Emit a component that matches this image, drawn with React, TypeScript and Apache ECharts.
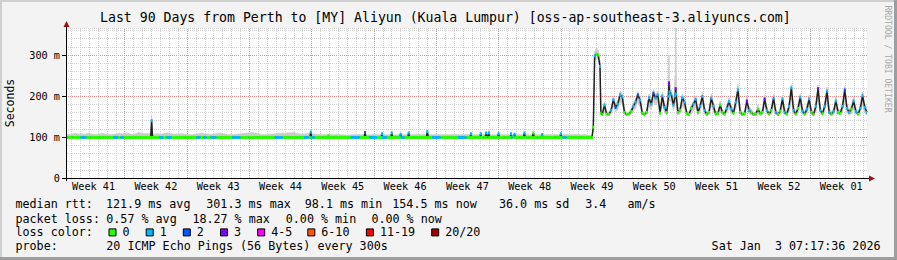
import React, { useEffect, useRef } from 'react';
import * as echarts from 'echarts';

const TITLE = 'Last 90 Days from Perth to [MY] Aliyun (Kuala Lumpur) [oss-ap-southeast-3.aliyuncs.com]';
const MONO = '"DejaVu Sans Mono", "Liberation Mono", monospace';

// x is measured in days from the left edge of the 90-day window
const windowDays = 90;
const weekLabels = ['Week 41', 'Week 42', 'Week 43', 'Week 44', 'Week 45', 'Week 46', 'Week 47', 'Week 48', 'Week 49', 'Week 50', 'Week 51', 'Week 52', 'Week 01'];
const weekMidpoints = [3.1, 10.1, 17.1, 24.1, 31.1, 38.1, 45.1, 52.1, 59.1, 66.1, 73.1, 80.1, 87.1];
const weekBoundaries = [6.6, 13.6, 20.6, 27.6, 34.6, 41.6, 48.6, 55.6, 62.6, 69.6, 76.6, 83.6];
const firstMidnight = 0.6;

const yTickValues = [0, 100, 200, 300];
const yTop = 366;

// ---- calm period (weeks 41-49): median around 99 ms ----
const calmTimes = [
  0, 0.5, 1.0, 1.5, 1.8, 2.1, 2.5, 3.0, 3.5, 4.0,
  4.5, 5.0, 5.7, 6.0, 6.25, 6.8, 7.5, 8.2, 8.9, 9.52,
  9.62, 9.72, 10.3, 10.7, 11.1, 11.5, 12.2, 13.0, 13.8, 14.4,
  14.9, 15.3, 15.6, 16.0, 16.5, 17.3, 18.2, 19.2, 20.0, 21.0,
  22.0, 23.0, 23.9, 24.8, 25.6, 26.4, 27.1, 27.4, 27.5, 27.6,
  28.3, 29.4, 29.5, 29.6, 30.5, 31.5, 32.5, 33.5, 33.6, 33.7,
  34.5, 35.4, 35.5, 35.6, 36.5, 36.6, 36.7, 37.5, 37.6, 37.7,
  38.4, 38.5, 38.6, 39.5, 40.5, 40.6, 40.7, 41.6, 42.6, 43.5,
  44.6, 45.4, 45.5, 45.6, 46.5, 46.6, 46.7, 47.1, 47.2, 47.3,
  47.4, 47.5, 47.6, 48.5, 48.6, 48.7, 49.9, 50.0, 50.1, 50.3,
  50.4, 50.5, 51.4, 51.5, 51.6, 52.4, 52.5, 52.6, 53.4, 53.5,
  53.6, 54.5, 55.5, 55.6, 55.7, 55.9, 56.6, 57.5, 58.3,
];
const calmMedian = [
  99, 99, 99, 99, 99, 99, 99, 99, 99, 99,
  99, 99, 99, 99, 99, 99, 99, 99, 99, 99,
  140, 99, 99, 99, 99, 99, 99, 99, 99, 99,
  99, 99, 99, 99, 99, 99, 99, 99, 99, 99,
  99, 99, 99, 99, 99, 99, 99, 99, 112, 99,
  99, 99, 103, 99, 99, 99, 99, 99, 111, 99,
  99, 99, 108, 99, 99, 110, 99, 99, 107, 99,
  99, 110, 99, 99, 99, 113, 99, 99, 99, 99,
  99, 99, 108, 99, 99, 108, 99, 99, 110, 99,
  99, 110, 99, 99, 108, 99, 99, 108, 99, 99,
  107, 99, 99, 110, 99, 99, 110, 99, 99, 106,
  99, 99, 99, 108, 99, 99, 99, 99, 99,
];
const calmLoss = [
  0, 0, 0, 0, 1, 1, 0, 0, 0, 0,
  0, 0, 1, 0, 1, 0, 0, 0, 0, 0,
  1, 0, 0, 1, 0, 1, 0, 0, 0, 0,
  1, 0, 1, 0, 1, 0, 0, 1, 0, 0,
  0, 0, 1, 0, 0, 0, 1, 0, 1, 1,
  0, 0, 0, 0, 0, 0, 1, 0, 2, 0,
  1, 0, 1, 1, 0, 1, 0, 0, 1, 1,
  0, 1, 0, 0, 0, 1, 0, 1, 0, 0,
  1, 0, 1, 0, 0, 1, 0, 0, 1, 0,
  0, 1, 0, 0, 1, 0, 0, 1, 1, 0,
  1, 0, 0, 1, 0, 0, 0, 0, 0, 1,
  0, 0, 0, 1, 0, 1, 0, 0, 0,
];
const calmSmokeLow = [
  98, 98, 98, 98, 98, 98, 98, 98, 98, 98,
  98, 98, 98, 98, 98, 98, 98, 98, 98, 98,
  99, 98, 98, 98, 98, 98, 98, 98, 98, 98,
  98, 98, 98, 98, 98, 98, 98, 98, 98, 98,
  98, 98, 98, 98, 98, 98, 98, 98, 99, 98,
  98, 98, 99, 98, 98, 98, 98, 98, 99, 98,
  98, 98, 99, 98, 98, 99, 98, 98, 99, 98,
  98, 99, 98, 98, 98, 99, 98, 98, 98, 98,
  98, 98, 99, 98, 98, 99, 98, 98, 99, 98,
  98, 99, 98, 98, 99, 98, 98, 99, 98, 98,
  99, 98, 98, 99, 98, 98, 99, 98, 98, 99,
  98, 98, 98, 99, 98, 98, 98, 98, 98,
];
const calmSmokeHigh = [
  107, 106, 109, 107, 108, 106, 110, 107, 106, 109,
  107, 106, 108, 109, 108, 110, 106, 111, 108, 109,
  152, 107, 108, 107, 109, 110, 107, 108, 106, 107,
  108, 109, 108, 107, 107, 110, 106, 107, 109, 111,
  106, 107, 109, 110, 111, 107, 108, 109, 116, 108,
  107, 106, 107, 106, 107, 105, 106, 106, 112, 105,
  106, 106, 110, 106, 106, 111, 105, 106, 108, 106,
  106, 111, 106, 107, 106, 116, 106, 106, 106, 106,
  106, 106, 109, 106, 106, 109, 106, 106, 111, 106,
  106, 116, 106, 106, 109, 106, 106, 109, 106, 106,
  108, 106, 106, 111, 106, 106, 111, 106, 106, 107,
  106, 106, 106, 109, 106, 106, 106, 106, 106,
];

// ---- busy period (weeks 49-01): jump to ~300 ms, then daily peaks ----
const busyTimes = [
  59.0, 59.1, 59.25, 59.4, 59.6, 59.8, 60.0, 60.1, 60.25, 60.5,
  60.75, 61.0, 61.25, 61.5, 61.75, 62.0, 62.25, 62.5, 62.75, 63.0,
  63.25, 63.5, 63.75, 64.0, 64.25, 64.5, 64.75, 65.0, 65.25, 65.5,
  65.75, 66.0, 66.25, 66.5, 66.75, 67.0, 67.25, 67.5, 67.7, 67.75,
  67.8, 68.0, 68.25, 68.45, 68.5, 68.55, 68.75, 69.0, 69.25, 69.5,
  69.75, 70.0, 70.25, 70.5, 70.75, 71.0, 71.25, 71.5, 71.75, 72.0,
  72.25, 72.5, 72.75, 73.0, 73.25, 73.5, 73.75, 74.0, 74.25, 74.5,
  74.75, 75.0, 75.25, 75.5, 75.75, 76.0, 76.25, 76.5, 76.75, 77.0,
  77.25, 77.5, 77.75, 78.0, 78.25, 78.5, 78.75, 79.0, 79.25, 79.5,
  79.75, 80.0, 80.25, 80.5, 80.75, 81.0, 81.25, 81.5, 81.75, 82.0,
  82.25, 82.5, 82.75, 83.0, 83.25, 83.5, 83.75, 84.0, 84.25, 84.5,
  84.75, 85.0, 85.25, 85.5, 85.75, 86.0, 86.25, 86.5, 86.75, 87.0,
  87.25, 87.5, 87.75, 88.0, 88.25, 88.5, 88.75, 89.0, 89.25, 89.5,
  89.75, 90.0,
];
const busyMedian = [
  99, 99, 124, 298, 302, 300, 272, 158, 155, 178,
  156, 155, 165, 191, 172, 180, 203, 198, 160, 155,
  156, 162, 175, 185, 203, 190, 158, 155, 160, 196,
  180, 207, 195, 203, 158, 200, 172, 160, 200, 232,
  210, 205, 178, 200, 218, 205, 160, 165, 196, 185,
  157, 155, 170, 180, 192, 160, 175, 199, 165, 155,
  160, 195, 175, 156, 157, 178, 160, 156, 170, 187,
  168, 158, 185, 215, 160, 155, 157, 188, 165, 160,
  155, 156, 168, 157, 160, 193, 165, 156, 165, 195,
  160, 155, 163, 193, 160, 156, 175, 220, 165, 156,
  170, 197, 163, 156, 168, 193, 160, 155, 175, 218,
  165, 157, 175, 212, 160, 156, 162, 188, 160, 158,
  175, 215, 170, 160, 168, 188, 162, 156, 170, 201,
  172, 160,
];
const busyLoss = [
  0, 0, 0, 1, 0, 0, 1, 0, 0, 1,
  0, 0, 1, 1, 2, 1, 1, 1, 0, 0,
  0, 0, 1, 1, 2, 1, 0, 0, 0, 1,
  1, 2, 1, 1, 0, 1, 1, 0, 1, 3,
  1, 1, 1, 1, 3, 1, 0, 0, 1, 1,
  0, 0, 0, 1, 1, 0, 1, 1, 1, 0,
  0, 1, 1, 0, 0, 0, 0, 0, 1, 1,
  1, 0, 1, 1, 0, 0, 0, 3, 1, 0,
  0, 0, 0, 0, 0, 3, 1, 0, 0, 1,
  1, 0, 0, 1, 1, 0, 1, 1, 1, 0,
  0, 1, 1, 0, 1, 1, 0, 0, 1, 3,
  1, 0, 1, 1, 1, 0, 1, 1, 0, 0,
  1, 2, 1, 1, 0, 1, 1, 0, 1, 1,
  1, 1,
];
const busySmokeLow = [
  98, 98, 118, 285, 292, 290, 262, 154, 153, 162,
  153, 153, 156, 174, 162, 166, 184, 180, 154, 153,
  153, 155, 162, 170, 184, 174, 154, 153, 154, 175,
  166, 186, 178, 184, 154, 180, 160, 154, 182, 200,
  188, 186, 164, 184, 195, 186, 154, 156, 176, 168,
  153, 153, 157, 164, 174, 154, 161, 180, 156, 153,
  154, 176, 161, 153, 153, 162, 154, 153, 158, 170,
  158, 154, 168, 190, 154, 153, 153, 170, 156, 154,
  153, 153, 157, 153, 154, 174, 156, 153, 155, 176,
  154, 153, 155, 174, 154, 153, 161, 192, 156, 153,
  157, 178, 155, 153, 156, 174, 154, 153, 161, 190,
  156, 153, 161, 186, 154, 153, 155, 170, 154, 154,
  161, 188, 158, 154, 156, 170, 155, 153, 157, 180,
  158, 154,
];
const busySmokeHigh = [
  103, 104, 128, 308, 318, 312, 288, 168, 162, 186,
  162, 160, 172, 199, 181, 189, 212, 207, 170, 160,
  161, 170, 183, 193, 211, 199, 166, 160, 168, 205,
  190, 216, 205, 212, 168, 210, 182, 170, 240, 300,
  240, 215, 190, 250, 372, 250, 170, 175, 205, 195,
  165, 160, 178, 188, 200, 170, 184, 210, 175, 160,
  168, 205, 185, 162, 163, 188, 168, 162, 178, 196,
  178, 165, 195, 228, 170, 160, 163, 198, 175, 168,
  160, 162, 178, 163, 168, 202, 175, 162, 174, 205,
  170, 160, 172, 202, 170, 162, 185, 228, 175, 162,
  180, 206, 172, 162, 178, 202, 170, 160, 185, 226,
  175, 163, 185, 222, 170, 162, 170, 198, 170, 165,
  185, 224, 180, 168, 178, 198, 172, 162, 180, 210,
  182, 170,
];

// loss colour buckets
const lossColours = ['#26ff00', '#00b8ff', '#0059ff', '#7e00ff', '#ff00ff', '#ff5500', '#ff0000', '#a00000'];
const lossLegendLabels = ['0', '1', '2', '3', '4-5', '6-10', '11-19', '20/20'];

// statistics shown below the chart
const rttStats = ['121.9 ms avg', '301.3 ms max', '98.1 ms min', '154.5 ms now', '36.0 ms sd', '3.4', 'am/s'];
const lossStats = ['0.57 % avg', '18.27 % max', '0.00 % min', '0.00 % now'];
const probeText = '20 ICMP Echo Pings (56 Bytes) every 300s';
const stampText = 'Sat Jan  3 07:17:36 2026';

// layout
const W = 897;
const H = 260;
const GRID = { left: 66, top: 28, width: 801, height: 150 };
const rttX = [106, 206.3, 304.8, 392.3, 499, 585.2, 627.4];
const lossX = [106.3, 192.4, 285.8, 371.4];
const lossBoxX = [108.5, 145.7, 182.8, 220, 257.2, 307.3, 365.9, 431.2];
const ROW_Y = [204.3, 218.7, 232.4, 246.3];
const SMOKE = '#cbcbcb';
const MINOR = '#d2d2d2';
const MAJOR = '#ec8c8c';

function buildOption() {
  const times = [...calmTimes, ...busyTimes];
  const median = [...calmMedian, ...busyMedian];
  const loss = [...calmLoss, ...busyLoss];
  const smokeLow = [...calmSmokeLow, ...busySmokeLow];
  const smokeHigh = [...calmSmokeHigh, ...busySmokeHigh];
  const n = Math.min(times.length, median.length, loss.length, smokeLow.length, smokeHigh.length);
  const idx = times.slice(0, n).map((_, i) => i);

  const dayLines: number[] = [];
  for (let d = firstMidnight; d < windowDays; d += 1) {
    const r = Math.round(d * 10) / 10;
    if (!weekBoundaries.some((w) => Math.abs(w - r) < 1e-6)) dayLines.push(r);
  }

  const text = (t: string, x: number, y: number, extra: any = {}) => ({
    type: 'text',
    x,
    y,
    silent: true,
    z: 20,
    style: {
      text: t,
      fill: '#000',
      fontFamily: MONO,
      fontSize: 11.7,
      verticalAlign: 'middle',
      align: 'left',
      ...extra,
    },
  });

  const graphics: any[] = [
    // bevelled frame
    { type: 'rect', silent: true, z: 30, shape: { x: 0, y: 0, width: W, height: 2 }, style: { fill: '#cfcfcf' } },
    { type: 'rect', silent: true, z: 30, shape: { x: 0, y: 0, width: 2, height: H }, style: { fill: '#cfcfcf' } },
    { type: 'rect', silent: true, z: 30, shape: { x: 0, y: H - 3, width: W, height: 3 }, style: { fill: '#9e9e9e' } },
    { type: 'rect', silent: true, z: 30, shape: { x: W - 3, y: 0, width: 3, height: H }, style: { fill: '#9e9e9e' } },
    // axes with arrows
    { type: 'line', silent: true, z: 20, shape: { x1: GRID.left + 0.5, y1: 181, x2: GRID.left + 0.5, y2: 26 }, style: { stroke: '#000', lineWidth: 1 } },
    { type: 'line', silent: true, z: 20, shape: { x1: 62, y1: GRID.top + GRID.height + 0.5, x2: 869, y2: GRID.top + GRID.height + 0.5 }, style: { stroke: '#000', lineWidth: 1 } },
    { type: 'polygon', silent: true, z: 21, shape: { points: [[63.5, 27], [69.5, 27], [66.5, 21]] }, style: { fill: '#a01010' } },
    { type: 'polygon', silent: true, z: 21, shape: { points: [[869, 175.5], [869, 181.5], [875, 178.5]] }, style: { fill: '#a01010' } },
    // vertical axis title
    {
      type: 'text', silent: true, z: 20, x: 10, y: 103, rotation: Math.PI / 2,
      style: { text: 'Seconds', fill: '#000', fontFamily: MONO, fontSize: 11.5, align: 'center', verticalAlign: 'middle' },
    },
    // watermark
    {
      type: 'text', silent: true, z: 20, x: 887.5, y: 59, rotation: -Math.PI / 2,
      style: { text: 'RRDTOOL / TOBI OETIKER', fill: '#a8a8a8', fontFamily: MONO, fontSize: 8.1, align: 'center', verticalAlign: 'middle' },
    },
    // legend rows
    text('median rtt:', 15.5, ROW_Y[0]),
    ...rttStats.map((s, i) => text(s, rttX[i], ROW_Y[0])),
    text('packet loss:', 15.5, ROW_Y[1]),
    ...lossStats.map((s, i) => text(s, lossX[i], ROW_Y[1])),
    text('loss color:', 15.5, ROW_Y[2]),
    ...lossLegendLabels.map((s, i) => text(s, lossBoxX[i] + 14, ROW_Y[2])),
    ...lossLegendLabels.map((_, i) => ({
      type: 'rect', silent: true, z: 20,
      shape: { x: lossBoxX[i] + 0.5, y: ROW_Y[2] - 3.5, width: 7, height: 7 },
      style: { fill: lossColours[i], stroke: '#000', lineWidth: 1 },
    })),
    text('probe:', 15.5, ROW_Y[3]),
    text(probeText, 106.3, ROW_Y[3]),
    text(stampText, 880.5, ROW_Y[3], { align: 'right' }),
  ];

  return {
    animation: false,
    backgroundColor: '#f3f3f3',
    title: {
      text: TITLE,
      left: 100,
      top: 11,
      padding: 0,
      textStyle: { fontFamily: MONO, fontSize: 13.2, fontWeight: 'normal', color: '#000' },
    },
    grid: {
      left: GRID.left,
      top: GRID.top,
      width: GRID.width,
      height: GRID.height,
      show: true,
      backgroundColor: '#ffffff',
      borderWidth: 0,
    },
    xAxis: {
      type: 'value',
      min: 0,
      max: windowDays,
      axisLine: { show: false },
      axisTick: { show: false },
      splitLine: { show: false },
      axisLabel: {
        customValues: weekMidpoints,
        formatter: (v: number) => {
          const i = weekMidpoints.findIndex((m) => Math.abs(m - v) < 1e-6);
          return i >= 0 ? weekLabels[i] : '';
        },
        fontFamily: MONO,
        fontSize: 10.2,
        color: '#000',
        margin: 3,
      },
    },
    yAxis: [
      {
        type: 'value',
        min: 0,
        max: yTop,
        interval: 20,
        position: 'left',
        axisLine: { show: false },
        axisTick: { show: false },
        axisLabel: { show: false },
        splitLine: { show: true, showMinLine: false, lineStyle: { color: MINOR, type: [1, 1], width: 1 } },
      },
      {
        type: 'value',
        min: 0,
        max: yTop,
        interval: 100,
        position: 'left',
        axisLine: { show: false },
        axisTick: { show: true, length: 4, customValues: yTickValues, lineStyle: { color: '#000', width: 1 } },
        axisLabel: {
          customValues: yTickValues,
          formatter: (v: number) => (v === 0 ? '0' : `${v} m`),
          fontFamily: MONO,
          fontSize: 10.2,
          color: '#000',
          margin: 6,
        },
        splitLine: { show: true, showMinLine: false, lineStyle: { color: MAJOR, type: [1, 1], width: 1 } },
      },
    ],
    series: [
      {
        type: 'line',
        name: 'grid',
        data: [],
        silent: true,
        z: 1,
        markLine: {
          silent: true,
          symbol: 'none',
          z: 1,
          animation: false,
          label: { show: false },
          emphasis: { disabled: true },
          lineStyle: { color: MINOR, type: [1, 1], width: 1 },
          data: [
            ...dayLines.map((v) => ({ xAxis: v, lineStyle: { color: MINOR, type: [1, 1], width: 1 } })),
            ...weekBoundaries.map((v) => ({ xAxis: v, lineStyle: { color: MAJOR, type: [1, 1], width: 1 } })),
          ],
        },
      },
      {
        type: 'custom',
        name: 'smoke',
        data: idx.map((i) => [times[i], smokeHigh[i], i]),
        encode: { x: 0, y: 1 },
        silent: true,
        clip: true,
        z: 2,
        renderItem: (_p: any, api: any) => {
          const i = api.value(2) as number;
          if (i >= n - 1) return null;
          const a = api.coord([times[i], smokeLow[i]]);
          const b = api.coord([times[i], smokeHigh[i]]);
          const c = api.coord([times[i + 1], smokeHigh[i + 1]]);
          const d = api.coord([times[i + 1], smokeLow[i + 1]]);
          return {
            type: 'polygon',
            shape: { points: [a, b, c, d] },
            style: { fill: SMOKE, stroke: SMOKE, lineWidth: 0.5 },
          };
        },
      },
      {
        type: 'line',
        name: 'median rtt',
        data: idx.map((i) => [times[i], median[i]]),
        symbol: 'none',
        silent: true,
        z: 3,
        lineStyle: { color: '#202020', width: 1.5 },
      },
      {
        type: 'custom',
        name: 'loss colour',
        data: idx.map((i) => [times[i], median[i], loss[i], i]),
        encode: { x: 0, y: 1 },
        silent: true,
        clip: true,
        z: 4,
        renderItem: (_params: any, api: any) => {
          const i = api.value(3) as number;
          const t = times[i];
          const v = median[i];
          const flat = (j: number) => j >= 0 && j < n && Math.abs(median[j] - v) <= 3;
          const c = api.coord([t, v]);
          const x1 = flat(i - 1) ? api.coord([(times[i - 1] + t) / 2, v])[0] : c[0] - 1;
          const x2 = flat(i + 1) ? api.coord([(times[i + 1] + t) / 2, v])[0] : c[0] + 1;
          return {
            type: 'line',
            shape: { x1, y1: c[1], x2, y2: c[1] },
            style: { stroke: lossColours[loss[i]], lineWidth: 3 },
          };
        },
      },
    ],
    graphic: graphics,
  };
}

export default function App() {
  const ref = useRef<HTMLDivElement>(null);
  useEffect(() => {
    if (!ref.current) return;
    const chart = echarts.init(ref.current, null, { renderer: 'svg' });
    chart.setOption(buildOption() as any);
    return () => chart.dispose();
  }, []);
  return <div ref={ref} style={{ position: 'absolute', left: 0, top: 0, width: W, height: H }} />;
}
